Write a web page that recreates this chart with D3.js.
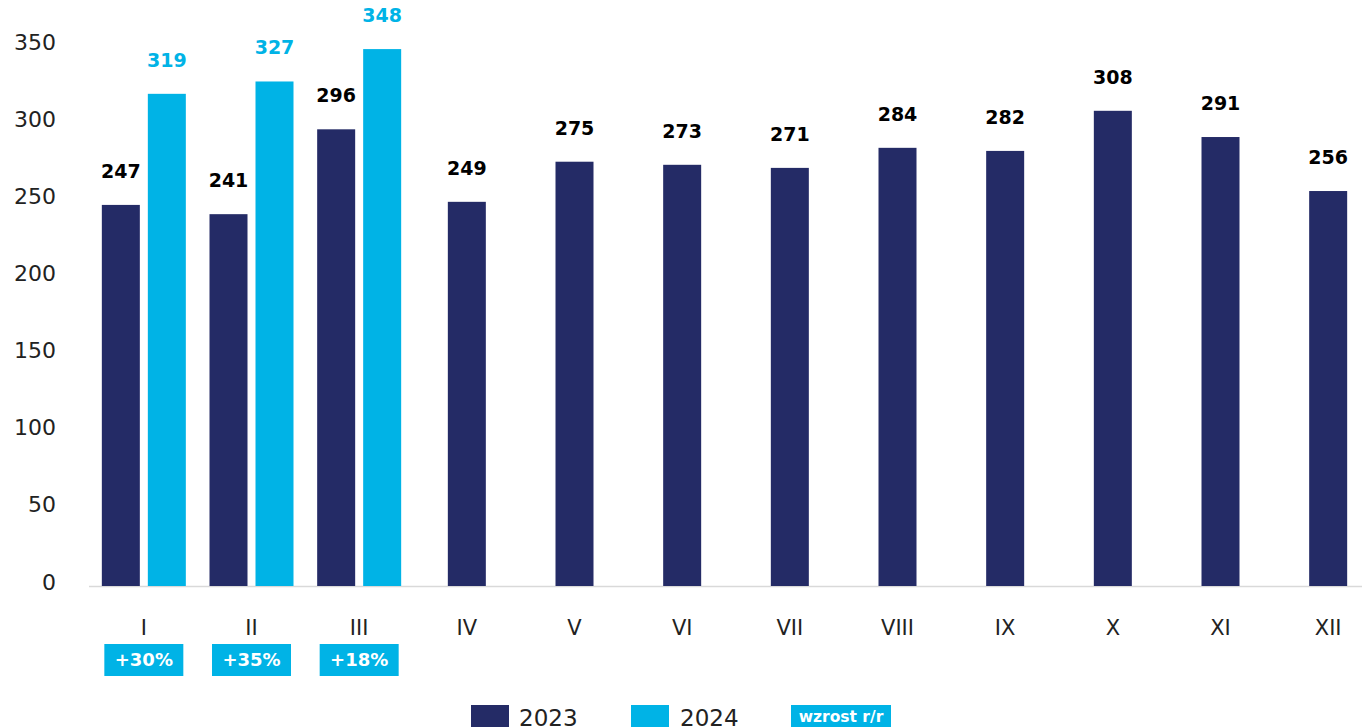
<!DOCTYPE html>
<html>
<head>
<meta charset="utf-8">
<script src="https://cdn.jsdelivr.net/npm/d3@7"></script>
<style>
  body { margin: 0; background: #fff; }
  text { font-family: "DejaVu Sans", sans-serif; }
</style>
</head>
<body>
<div id="chart"></div>
<script>
const width = 1362;
const height = 727;

const months = ["I", "II", "III", "IV", "V", "VI", "VII", "VIII", "IX", "X", "XI", "XII"];
const values2023 = [247, 241, 296, 249, 275, 273, 271, 284, 282, 308, 291, 256];
const values2024 = [319, 327, 348];
const growth = ["+30%", "+35%", "+18%"];
const yTicks = [0, 50, 100, 150, 200, 250, 300, 350];

const dark = "#242b66";
const light = "#00b3e6";

const svg = d3.select("#chart").append("svg")
    .attr("width", width)
    .attr("height", height);

const x = d3.scaleBand()
    .domain(months)
    .range([90, 1382]);

const y = d3.scaleLinear()
    .domain([0, 350])
    .range([586, 46]);

const sub = d3.scaleBand()
    .domain(["2023", "2024"])
    .range([-42, 42])
    .paddingInner(8 / 46);

const barW = sub.bandwidth();

// rows: one per bar
let bars = [];
months.forEach((m, i) => {
    const two = i < values2024.length;
    bars.push({ m: m, v: values2023[i], s: "2023", off: two ? sub("2023") : -barW / 2 });
    if (two) bars.push({ m: m, v: values2024[i], s: "2024", off: sub("2024") });
});

// y axis labels
svg.append("g")
    .attr("transform", "translate(56,-4)")
    .call(d3.axisLeft(y).tickValues(yTicks).tickSize(0).tickPadding(0))
    .call(g => g.select(".domain").remove())
    .selectAll("text")
    .attr("font-size", 22)
    .attr("font-family", "DejaVu Sans, sans-serif")
    .attr("fill", "#222");

// baseline
svg.append("line")
    .attr("x1", 89).attr("x2", width)
    .attr("y1", y(0) + 0.5).attr("y2", y(0) + 0.5)
    .attr("stroke", "#d9d9d9")
    .attr("stroke-width", 1.5);

// bars
svg.selectAll(".bar")
    .data(bars)
    .enter()
    .append("rect")
    .attr("class", "bar")
    .attr("x", d => x(d.m) + x.bandwidth() / 2 + d.off)
    .attr("y", d => y(d.v))
    .attr("width", barW)
    .attr("height", d => y(0) - y(d.v))
    .attr("fill", d => d.s === "2023" ? dark : light);

// value labels
svg.selectAll(".val")
    .data(bars)
    .enter()
    .append("text")
    .attr("class", "val")
    .attr("x", d => x(d.m) + x.bandwidth() / 2 + d.off + barW / 2)
    .attr("y", d => y(d.v) - 27)
    .attr("text-anchor", "middle")
    .attr("font-size", 19)
    .attr("font-weight", "bold")
    .attr("fill", d => d.s === "2023" ? "#000" : light)
    .text(d => d.v);

// month labels
svg.append("g")
    .attr("transform", "translate(0," + y(0) + ")")
    .call(d3.axisBottom(x).tickSize(0).tickPadding(34))
    .call(g => g.select(".domain").remove())
    .selectAll("text")
    .attr("font-size", 21)
    .attr("font-family", "DejaVu Sans, sans-serif")
    .attr("fill", "#222");

// growth badges
const badges = svg.selectAll(".badge")
    .data(growth)
    .enter()
    .append("g")
    .attr("class", "badge")
    .attr("transform", (d, i) => "translate(" + (x(months[i]) + x.bandwidth() / 2) + ",660)");

badges.append("rect")
    .attr("x", -39.5).attr("y", -16)
    .attr("width", 79).attr("height", 32)
    .attr("fill", light);

badges.append("text")
    .attr("text-anchor", "middle")
    .attr("dy", "0.36em")
    .attr("font-size", 18)
    .attr("font-weight", "bold")
    .attr("fill", "#fff")
    .text(d => d);

// legend
const legend = svg.append("g");
legend.append("rect").attr("x", 471).attr("y", 705).attr("width", 38).attr("height", 30).attr("fill", dark);
legend.append("text").attr("x", 519).attr("y", 726).attr("font-size", 23).attr("fill", "#222").text("2023");
legend.append("rect").attr("x", 631).attr("y", 705).attr("width", 38).attr("height", 30).attr("fill", light);
legend.append("text").attr("x", 680).attr("y", 726).attr("font-size", 23).attr("fill", "#222").text("2024");
legend.append("rect").attr("x", 791).attr("y", 705).attr("width", 100).attr("height", 30).attr("fill", light);
legend.append("text").attr("x", 841).attr("y", 722).attr("text-anchor", "middle")
    .attr("font-size", 15.5).attr("font-weight", "bold").attr("fill", "#fff").text("wzrost r/r");
</script>
</body>
</html>
